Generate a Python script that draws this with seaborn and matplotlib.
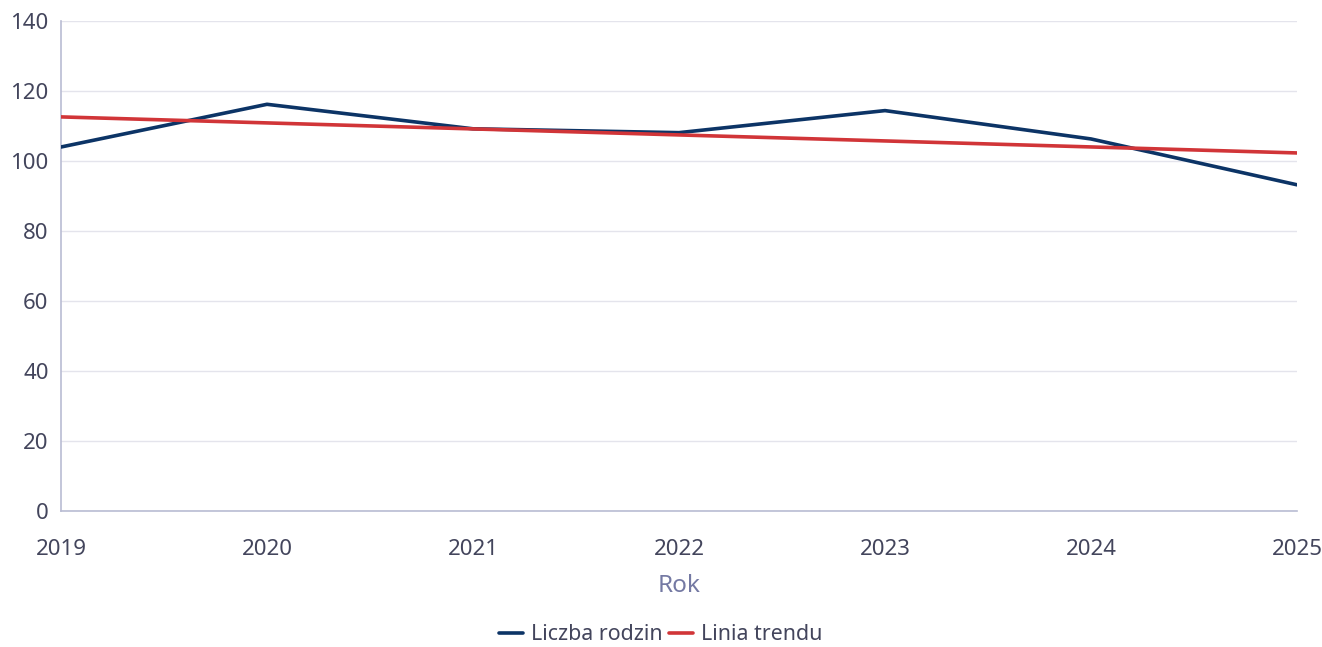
import matplotlib
matplotlib.use("Agg")
import matplotlib.pyplot as plt
import seaborn as sns
import pandas as pd

years = [2019, 2020, 2021, 2022, 2023, 2024, 2025]
families = [104.0, 116.2, 109.2, 108.1, 114.4, 106.3, 93.2]
trend_years = [2019, 2025]
trend_values = [112.6, 102.3]
y_ticks = [0, 20, 40, 60, 80, 100, 120, 140]

sns.set_theme(style="white")
plt.rcParams['font.family'] = ['Noto Sans', 'DejaVu Sans']

TEXT = "#43455c"
AXIS = "#b9bcd3"
GRID = "#e4e4ec"
BLUE = "#0c3466"
RED = "#d13538"

fig = plt.figure(figsize=(13.22, 6.47), dpi=100)
ax = fig.add_axes([61/1322, 1-511/647, (1297-61)/1322, (511-21)/647])

df = pd.DataFrame({"Rok": years, "Liczba rodzin": families})
dt = pd.DataFrame({"Rok": trend_years, "Linia trendu": trend_values})

sns.lineplot(data=df, x="Rok", y="Liczba rodzin", ax=ax, color=BLUE, linewidth=2.6,
             label="Liczba rodzin", zorder=3)
sns.lineplot(data=dt, x="Rok", y="Linia trendu", ax=ax, color=RED, linewidth=2.6,
             label="Linia trendu", zorder=4)

ax.set_xlim(years[0], years[-1])
ax.set_ylim(0, 140)
ax.set_yticks(y_ticks)
ax.set_xticks(years)
ax.set_xticklabels([str(y) for y in years])
ax.grid(axis="y", color=GRID, linewidth=1)
ax.set_axisbelow(True)
for s in ["top", "right"]:
    ax.spines[s].set_visible(False)
for s in ["left", "bottom"]:
    ax.spines[s].set_color(AXIS)
    ax.spines[s].set_linewidth(1.2)
ax.tick_params(axis="y", length=0, pad=9, labelsize=16, labelcolor=TEXT)
ax.tick_params(axis="x", length=0, pad=20, labelsize=16, labelcolor=TEXT)
ax.set_ylabel("")
ax.set_xlabel("Rok", fontsize=17.5, color="#7479a3", labelpad=10)

ax.get_legend().remove()
handles, labels = ax.get_legend_handles_labels()
fig.legend(handles, labels, loc="center", bbox_to_anchor=(0.5, 1-635/647), ncol=2,
           frameon=False, fontsize=15.4, labelcolor=TEXT, handlelength=1.1,
           handletextpad=0.4, columnspacing=0.3)

fig.savefig("out.png", dpi=100)
